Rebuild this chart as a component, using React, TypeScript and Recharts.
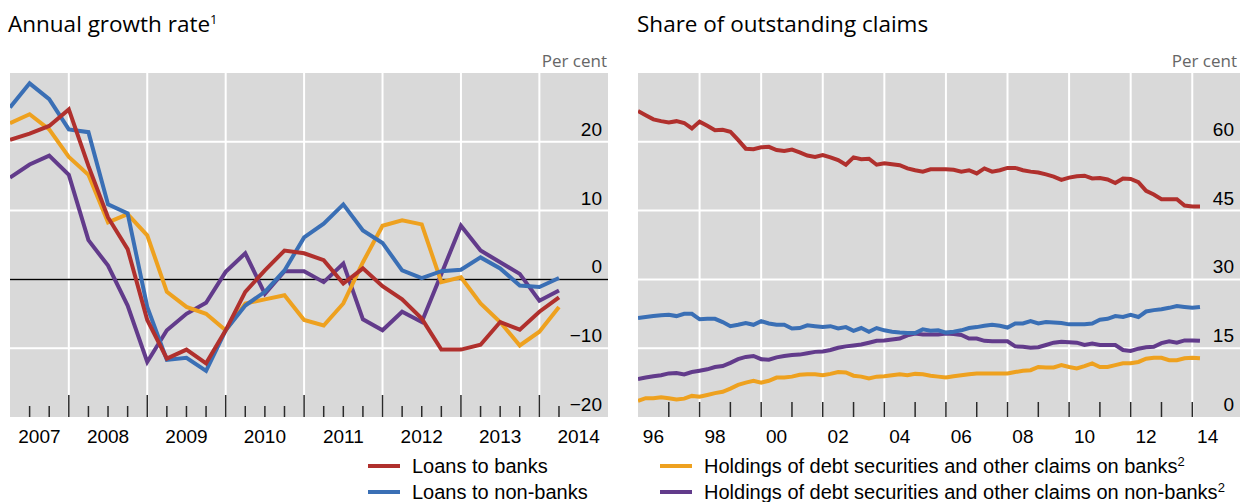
import React from 'react';
import { LineChart, Line, XAxis, YAxis, CartesianGrid, ReferenceLine } from 'recharts';

// ---------- Left panel: annual growth rate (quarterly) ----------
const growthQuarters = Array.from({ length: 29 }, (_, i) => 2007.25 + i * 0.25);
const loansToBanks = [20.3, 21.2, 22.3, 24.7, 16.5, 9.0, 4.4, -5.9, -11.5, -10.2, -12.2, -7.4, -1.8, 1.3, 4.2, 3.8, 2.8, -0.6, 1.6, -1.0, -2.9, -5.7, -10.2, -10.2, -9.5, -6.2, -7.3, -4.7, -2.6];
const loansToNonBanks = [25.0, 28.5, 26.2, 21.8, 21.4, 10.9, 9.6, -4.0, -11.7, -11.4, -13.3, -7.4, -3.8, -1.8, 1.3, 6.1, 8.1, 10.9, 7.1, 5.3, 1.3, 0.2, 1.2, 1.4, 3.2, 1.6, -0.9, -1.1, 0.2];
const debtOnBanks = [22.7, 24.0, 21.8, 17.8, 15.2, 8.3, 9.5, 6.4, -1.8, -4.0, -5.0, -7.4, -3.5, -2.9, -2.3, -5.9, -6.7, -3.5, 2.5, 7.8, 8.6, 8.0, -0.4, 0.3, -3.5, -6.2, -9.6, -7.6, -4.0];
const debtOnNonBanks = [14.8, 16.7, 18.0, 15.2, 5.7, 2.0, -3.8, -12.0, -7.4, -5.0, -3.4, 1.1, 3.8, -2.1, 1.2, 1.2, -0.4, 2.3, -5.8, -7.4, -4.7, -6.2, 0.8, 7.8, 4.2, 2.5, 0.8, -3.1, -1.6];

const growthDomain = [2007.25, 2014.875];
const growthTickMarks = [2007.5, 2007.75, 2008, 2008.25, 2008.5, 2008.75, 2009, 2009.25, 2009.5, 2009.75, 2010, 2010.25, 2010.5, 2010.75, 2011, 2011.25, 2011.5, 2011.75, 2012, 2012.25, 2012.5, 2012.75, 2013, 2013.25, 2013.5, 2013.75, 2014, 2014.25];
const growthGridYears = [2008, 2009, 2010, 2011, 2012, 2013, 2014];
const growthLabelPos = [2007.625, 2008.5, 2009.5, 2010.5, 2011.5, 2012.5, 2013.5, 2014.5];
const growthYTicks = [-20, -10, 0, 10, 20];
const growthGridY = [-10, 0, 10, 20];

// ---------- Right panel: share of outstanding claims (quarterly) ----------
const shareQuarters = Array.from({ length: 74 }, (_, i) => 1996 + i * 0.25);
const shareLoansBanks = [66.7, 65.8, 64.9, 64.5, 64.2, 64.5, 64.1, 62.9, 64.4, 63.5, 62.5, 62.6, 62.2, 60.4, 58.5, 58.4, 58.8, 58.9, 58.2, 58.0, 58.3, 57.7, 57.0, 56.7, 57.1, 56.6, 56.0, 55.0, 56.6, 56.2, 56.3, 55.0, 55.3, 55.1, 54.9, 54.2, 53.8, 53.5, 54.0, 54.0, 54.0, 53.9, 53.5, 53.8, 53.1, 54.2, 53.5, 53.8, 54.3, 54.3, 53.8, 53.5, 53.3, 52.9, 52.4, 51.7, 52.2, 52.5, 52.6, 52.0, 52.1, 51.8, 51.0, 52.0, 51.9, 51.2, 49.3, 48.5, 47.5, 47.5, 47.5, 46.1, 45.9, 45.9];
const shareLoansNonBanks = [21.6, 21.8, 22.0, 22.2, 22.3, 22.0, 22.5, 22.5, 21.3, 21.4, 21.4, 20.7, 19.8, 20.1, 20.5, 20.1, 20.9, 20.4, 20.1, 20.1, 19.3, 19.4, 20.0, 19.8, 19.6, 19.8, 19.3, 19.6, 18.8, 19.4, 18.6, 19.4, 18.9, 18.6, 18.4, 18.3, 18.3, 19.1, 18.8, 18.9, 18.4, 18.6, 18.9, 19.4, 19.6, 19.9, 20.1, 19.9, 19.5, 20.4, 20.4, 20.9, 20.4, 20.7, 20.6, 20.5, 20.2, 20.2, 20.2, 20.4, 21.2, 21.4, 22.0, 21.8, 22.3, 21.8, 23.0, 23.3, 23.5, 23.8, 24.2, 24.0, 23.8, 24.0];
const shareDebtBanks = [3.5, 4.1, 4.1, 4.3, 4.1, 3.8, 4.0, 4.6, 4.4, 4.8, 5.2, 5.5, 6.2, 7.0, 7.5, 7.9, 7.5, 7.9, 8.6, 8.6, 8.8, 9.2, 9.3, 9.3, 9.1, 9.4, 9.8, 9.7, 9.0, 8.8, 8.4, 8.8, 8.9, 9.1, 9.3, 9.1, 9.4, 9.3, 9.0, 8.8, 8.6, 8.9, 9.1, 9.3, 9.5, 9.5, 9.5, 9.5, 9.5, 9.8, 10.1, 10.2, 10.9, 10.8, 10.8, 11.3, 10.9, 10.6, 11.1, 11.7, 10.9, 10.9, 11.3, 11.7, 11.7, 12.0, 12.7, 12.9, 12.9, 12.4, 12.4, 12.8, 12.9, 12.8];
const shareDebtNonBanks = [8.3, 8.6, 8.9, 9.1, 9.5, 9.6, 9.3, 9.8, 10.1, 10.4, 10.9, 11.1, 11.8, 12.6, 13.1, 13.3, 12.6, 12.5, 13.0, 13.3, 13.5, 13.6, 13.9, 14.2, 14.3, 14.6, 15.1, 15.4, 15.6, 15.8, 16.2, 16.6, 16.7, 16.9, 17.1, 17.8, 18.2, 18.0, 18.0, 18.0, 18.2, 18.1, 17.9, 17.1, 17.1, 16.6, 16.5, 16.5, 16.5, 15.4, 15.3, 15.1, 15.2, 15.7, 16.2, 16.4, 16.3, 16.2, 15.7, 16.0, 15.7, 15.7, 15.7, 14.6, 14.4, 14.9, 15.2, 15.3, 16.1, 16.5, 16.2, 16.7, 16.7, 16.6];

const shareDomain = [1996, 2015.55];
const shareTickMarks = [1997, 1998, 1999, 2000, 2001, 2002, 2003, 2004, 2005, 2006, 2007, 2008, 2009, 2010, 2011, 2012, 2013, 2014];
const shareGridYears = [1998, 2000, 2002, 2004, 2006, 2008, 2010, 2012, 2014];
const shareLabelPos = [1996.5, 1998.5, 2000.5, 2002.5, 2004.5, 2006.5, 2008.5, 2010.5, 2012.5, 2014.5];
const shareYTicks = [0, 15, 30, 45, 60];
const shareGridY = [15, 30, 45, 60];

const COLORS = { red: '#B0302D', blue: '#3A6FB5', orange: '#EEA11F', purple: '#623B8B' };
const TICK_FONT = "'Liberation Sans', Arial, sans-serif";
const TITLE_FONT = "'Open Sans', 'Noto Sans', sans-serif";

const growthData = growthQuarters.map((q, i) => ({
  q,
  banks: loansToBanks[i],
  nonBanks: loansToNonBanks[i],
  debtBanks: debtOnBanks[i],
  debtNonBanks: debtOnNonBanks[i],
}));

const shareData = shareQuarters.map((q, i) => ({
  q,
  banks: shareLoansBanks[i],
  nonBanks: shareLoansNonBanks[i],
  debtBanks: shareDebtBanks[i],
  debtNonBanks: shareDebtNonBanks[i],
}));

const fmtNum = (v: number) => (v < 0 ? '\u2212' + Math.abs(v) : String(v));

const renderValueTick = (props: any) => {
  const { x, y, payload } = props;
  return (
    <text x={x - 6} y={y - 6} textAnchor="end" fontSize={19} fontFamily={TICK_FONT} fill="#000">
      {fmtNum(payload.value)}
    </text>
  );
};

// One bottom axis carries both the tick marks (drawn upward into the plot) and the period labels.
const makeAxisTick = (marks: number[], labels: number[], isMajor: (v: number) => boolean,
  majorLen: number, minorLen: number, fmt: (v: number) => string) => (props: any) => {
  const { x, y, payload } = props;
  const v = payload.value;
  const hasMark = marks.includes(v);
  const hasLabel = labels.includes(v);
  const len = isMajor(v) ? majorLen : minorLen;
  return (
    <g>
      {hasMark && <line x1={x} x2={x} y1={y} y2={y - len} stroke="#2a2a2a" strokeWidth={1.5} />}
      {hasLabel && (
        <text x={x} y={y + 26} textAnchor="middle" fontSize={19} fontFamily={TICK_FONT} fill="#000">
          {fmt(v)}
        </text>
      )}
    </g>
  );
};

const union = (a: number[], b: number[]) => Array.from(new Set([...a, ...b])).sort((p, q) => p - q);

const growthAxisTicks = union(growthTickMarks, growthLabelPos);
const shareAxisTicks = union(shareTickMarks, shareLabelPos);
const growthAxisTick = makeAxisTick(growthTickMarks, growthLabelPos, (v) => Number.isInteger(v), 22, 11,
  (v) => String(Math.floor(v)));
const shareAxisTick = makeAxisTick(shareTickMarks, shareLabelPos, () => true, 15, 15,
  (v) => String(Math.floor(v) % 100).padStart(2, '0'));

const lineProps = { type: 'linear' as const, dot: false, activeDot: false, strokeWidth: 4, isAnimationActive: false };

function Panel({ data, domain, axisTicks, gridYears, yDomain, yTicks, gridY, axisTick, width, margin, zeroLine }: any) {
  return (
    <LineChart width={width} height={460} data={data} margin={margin}>
      <XAxis xAxisId="q" dataKey="q" type="number" domain={domain} ticks={axisTicks} interval={0} height={43}
        tickSize={0} tickMargin={0} axisLine={false} tickLine={false} tick={axisTick} allowDataOverflow />
      <YAxis yAxisId="v" orientation="right" domain={yDomain} ticks={yTicks} interval={0} width={1}
        tickSize={0} tickMargin={0} axisLine={false} tickLine={false} tick={renderValueTick} allowDataOverflow />
      <CartesianGrid xAxisId="q" yAxisId="v" verticalValues={gridYears} horizontalValues={gridY}
        fill="#D9D9D9" fillOpacity={1} stroke="#FFFFFF" strokeWidth={2} />
      {zeroLine && <ReferenceLine xAxisId="q" yAxisId="v" y={0} stroke="#000" strokeWidth={1.5} />}
      <Line xAxisId="q" yAxisId="v" dataKey="debtNonBanks" stroke={COLORS.purple} {...lineProps} />
      <Line xAxisId="q" yAxisId="v" dataKey="debtBanks" stroke={COLORS.orange} {...lineProps} />
      <Line xAxisId="q" yAxisId="v" dataKey="nonBanks" stroke={COLORS.blue} {...lineProps} />
      <Line xAxisId="q" yAxisId="v" dataKey="banks" stroke={COLORS.red} {...lineProps} />
    </LineChart>
  );
}

const Swatch = ({ color }: { color: string }) => (
  <div style={{ width: 32, height: 4, background: color, marginRight: 12, flex: 'none' }} />
);

const LegendItem = ({ color, left, top, children }: any) => (
  <div style={{ position: 'absolute', left, top, height: 22, display: 'flex', alignItems: 'center',
    fontFamily: TICK_FONT, fontSize: 20, lineHeight: '22px', color: '#000', whiteSpace: 'nowrap' }}>
    <Swatch color={color} />
    <span>{children}</span>
  </div>
);

export default function App() {
  const titleStyle: React.CSSProperties = { position: 'absolute', top: 12, fontFamily: TITLE_FONT, fontSize: 22.5,
    lineHeight: '23px', color: '#000', whiteSpace: 'nowrap' };
  const unitStyle: React.CSSProperties = { position: 'absolute', top: 52, fontFamily: TITLE_FONT, fontSize: 17,
    lineHeight: '17px', color: '#666', textAlign: 'right', width: 120, whiteSpace: 'nowrap' };
  const sup: React.CSSProperties = { fontSize: 13, verticalAlign: 'top', position: 'relative', top: -4 };
  return (
    <div style={{ position: 'absolute', left: 0, top: 0, width: 1250, height: 502, background: '#fff', overflow: 'hidden' }}>
      <div style={{ ...titleStyle, left: 8 }}>Annual growth rate<span style={sup}>1</span></div>
      <div style={{ ...titleStyle, left: 637 }}>Share of outstanding claims</div>
      <div style={{ ...unitStyle, left: 607 - 120 }}>Per cent</div>
      <div style={{ ...unitStyle, left: 1237 - 120 }}>Per cent</div>

      <div style={{ position: 'absolute', left: 0, top: 0 }}>
        <Panel data={growthData} domain={growthDomain} axisTicks={growthAxisTicks} gridYears={growthGridYears}
          yDomain={[-20, 30]} yTicks={growthYTicks} gridY={growthGridY} axisTick={growthAxisTick} width={620}
          margin={{ top: 73, right: 11, bottom: 0, left: 10 }} zeroLine />
      </div>
      <div style={{ position: 'absolute', left: 620, top: 0 }}>
        <Panel data={shareData} domain={shareDomain} axisTicks={shareAxisTicks} gridYears={shareGridYears}
          yDomain={[0, 75]} yTicks={shareYTicks} gridY={shareGridY} axisTick={shareAxisTick} width={630}
          margin={{ top: 73, right: 9, bottom: 0, left: 18 }} zeroLine={false} />
      </div>

      <LegendItem color={COLORS.red} left={368} top={455}>Loans to banks</LegendItem>
      <LegendItem color={COLORS.blue} left={368} top={481}>Loans to non-banks</LegendItem>
      <LegendItem color={COLORS.orange} left={660} top={455}>
        Holdings of debt securities and other claims on banks<span style={sup}>2</span>
      </LegendItem>
      <LegendItem color={COLORS.purple} left={660} top={481}>
        Holdings of debt securities and other claims on non-banks<span style={sup}>2</span>
      </LegendItem>
    </div>
  );
}
